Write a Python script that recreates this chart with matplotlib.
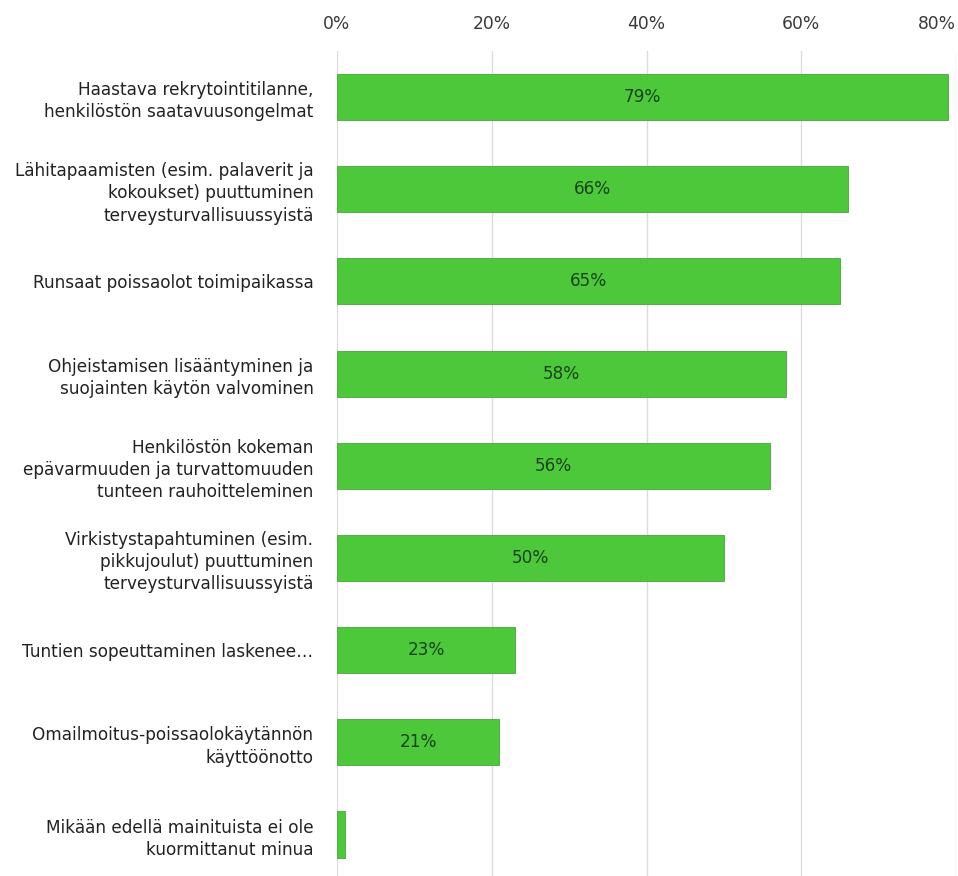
import matplotlib.pyplot as plt
from matplotlib.ticker import FuncFormatter

categories = [
    "Haastava rekrytointitilanne,\nhenkilöstön saatavuusongelmat",
    "Lähitapaamisten (esim. palaverit ja\nkokoukset) puuttuminen\nterveysturvallisuussyistä",
    "Runsaat poissaolot toimipaikassa",
    "Ohjeistamisen lisääntyminen ja\nsuojainten käytön valvominen",
    "Henkilöstön kokeman\nepävarmuuden ja turvattomuuden\ntunteen rauhoitteleminen",
    "Virkistystapahtuminen (esim.\npikkujoulut) puuttuminen\nterveysturvallisuussyistä",
    "Tuntien sopeuttaminen laskenee…",
    "Omailmoitus-poissaolokäytännön\nkäyttöönotto",
    "Mikään edellä mainituista ei ole\nkuormittanut minua",
]
values = [79, 66, 65, 58, 56, 50, 23, 21, 1]
value_labels = ["79%", "66%", "65%", "58%", "56%", "50%", "23%", "21%", None]
x_ticks = [0, 20, 40, 60, 80]

plt.rcParams["font.family"] = ["DejaVu Sans"]

fig = plt.figure(figsize=(9.58, 8.76), dpi=100)
W, H = 958, 876
left, right, top, bottom = 337, 956, 51, 876
ax = fig.add_axes([left / W, 1 - bottom / H, (right - left) / W, (bottom - top) / H])

ypos = list(range(len(categories)))
ax.barh(ypos, values, height=0.5, color="#4cc83a", edgecolor="#45a838",
        linewidth=0.6, zorder=3)

for y, v, lab in zip(ypos, values, value_labels):
    if lab:
        ax.text(v / 2, y, lab, ha="center", va="center", fontsize=12.2,
                color="#1b421b", zorder=4)

ax.set_xlim(0, 80)
ax.set_ylim(8.45, -0.5)
ax.set_xticks(x_ticks)
ax.xaxis.set_major_formatter(FuncFormatter(lambda v, p: f"{v:.0f}%"))
ax.xaxis.tick_top()
ax.tick_params(axis="x", length=0, pad=13, labelsize=12.3, labelcolor="#3a3a3a")
ax.grid(axis="x", color="#dcdcdc", linewidth=1, zorder=0)
ax.set_axisbelow(True)
for s in ax.spines.values():
    s.set_visible(False)

ax.set_yticks(ypos)
ax.set_yticklabels(categories, fontsize=12.2, color="#222222",
                   multialignment="right", linespacing=1.3)
ax.tick_params(axis="y", length=0, pad=17)

xt = ax.get_xticklabels()
xt[-1].set_horizontalalignment("right")

fig.savefig("out.png", dpi=100)
